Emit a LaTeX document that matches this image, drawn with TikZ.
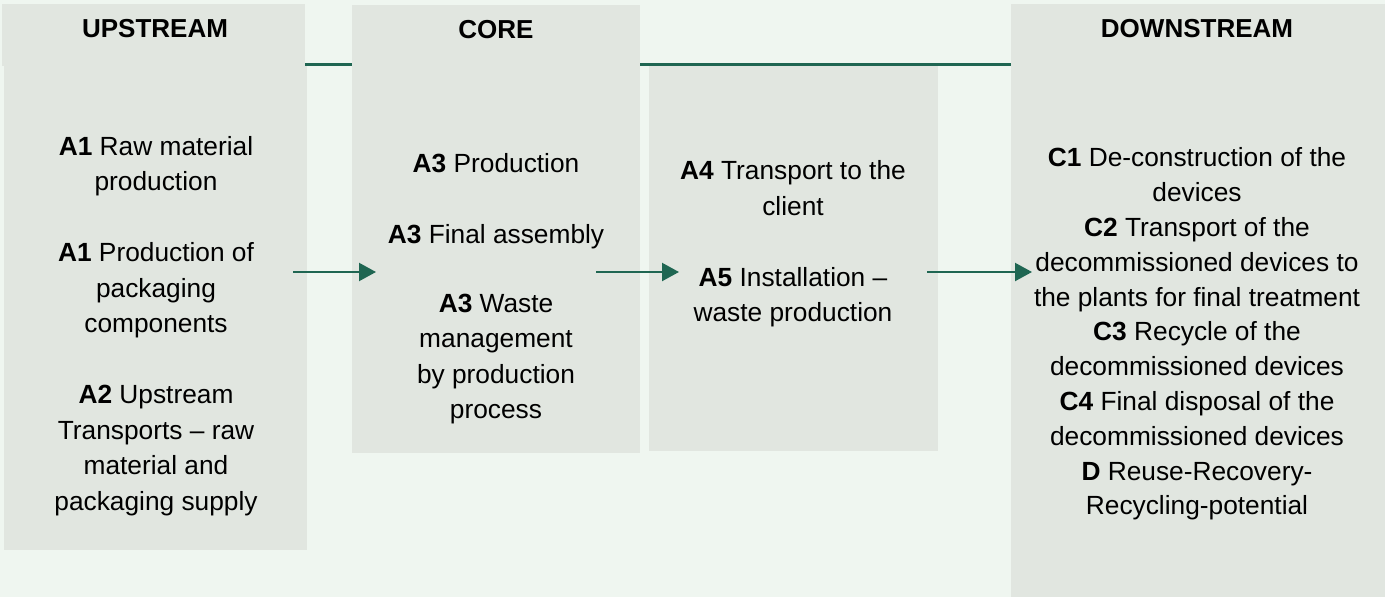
\documentclass[tikz,border=0pt]{standalone}
\usepackage{fontspec}
\setmainfont{Liberation Sans}
\usetikzlibrary{arrows.meta}
\definecolor{bgc}{RGB}{239,246,240}
\definecolor{boxc}{RGB}{225,230,224}
\definecolor{lcgreen}{RGB}{31,102,82}
\begin{document}
\begin{tikzpicture}[x=1pt,y=-1pt,
  box/.style={fill=boxc, draw=none, inner sep=0pt, outer sep=0pt, anchor=north west},
  head/.style={font=\fontsize{26}{31}\selectfont\bfseries, inner sep=0pt},
  txt/.style={font=\fontsize{26.3}{35.5}\selectfont, align=center, inner sep=0pt},
  link/.style={draw=lcgreen, line width=2.4pt},
  flow/.style={draw=lcgreen, line width=2.2pt, -{Triangle[length=17pt,width=18pt]}}]
\fill[bgc] (0,0) rectangle (1385,597);
\useasboundingbox (0,0) rectangle (1385,597);
% boxes
\node[box, minimum width=303pt, minimum height=62pt] (uph) at (2,4) {};
\node[box, minimum width=303pt, minimum height=484pt] (upb) at (4,66) {};
\node[box, minimum width=288pt, minimum height=61pt] (coreh) at (352,5) {};
\node[box, minimum width=288pt, minimum height=387pt] (coreb) at (352,66) {};
\node[box, minimum width=289pt, minimum height=385pt] (instb) at (649,66) {};
\node[box, minimum width=375pt, minimum height=593pt] (down) at (1011,4) {};
% top connecting lines
\draw[link] ([yshift=1.5pt]uph.south east) -- ([yshift=1.5pt]coreh.south west);
\draw[link] ([yshift=1.5pt]coreh.south east) -- ([yshift=1.5pt]coreh.south east -| down.west);
% headers
\node[head] (uplbl) at (155,29) {UPSTREAM};
\node[head] (corelbl) at (496,30) {CORE};
\node[head] (downlbl) at (1197,29) {DOWNSTREAM};
% texts
\node[txt] (uptxt) at (156,326) {\textbf{A1} Raw material\\production\\[35.5pt]\textbf{A1} Production of\\packaging\\components\\[35.5pt]\textbf{A2} Upstream\\Transports – raw\\material and\\packaging supply};
\node[txt] (coretxt) at (496,289) {\textbf{A3} Production\\[35.5pt]\textbf{A3} Final assembly\\[33pt]\textbf{A3} Waste\\management\\by production\\process};
\node[txt] (insttxt) at (793,244) {\textbf{A4} Transport to the\\client\\[35.5pt]\textbf{A5} Installation –\\waste production};
\node[txt, font=\fontsize{26.3}{34.8}\selectfont] (downtxt) at (1197,334) {\textbf{C1} De-construction of the\\devices\\\textbf{C2} Transport of the\\decommissioned devices to\\the plants for final treatment\\\textbf{C3} Recycle of the\\decommissioned devices\\\textbf{C4} Final disposal of the\\decommissioned devices\\\textbf{D} Reuse-Recovery-\\Recycling-potential};
% flow arrows
\coordinate (a1s) at (293,272);
\coordinate (a1e) at (376,272);
\coordinate (a2s) at (596,272);
\coordinate (a2e) at (679,272);
\coordinate (a3s) at (927,272);
\coordinate (a3e) at (1032,272);
\draw[flow] (a1s) -- (a1e);
\draw[flow] (a2s) -- (a2e);
\draw[flow] (a3s) -- (a3e);
\end{tikzpicture}
\end{document}
